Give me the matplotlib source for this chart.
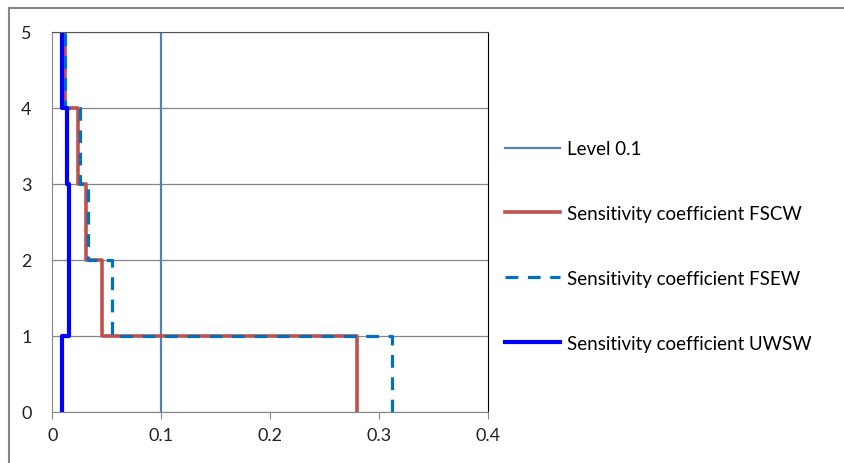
import numpy as np
import matplotlib
matplotlib.use('Agg')
from matplotlib import pyplot as plt
from matplotlib.lines import Line2D

# x value of each vertical segment, for levels 0-1, 1-2, 2-3, 3-4, 4-5
levels = [0, 1, 2, 3, 4, 5]
fscw = [0.280, 0.0459, 0.031, 0.024, 0.0112]
fsew = [0.312, 0.055, 0.0325, 0.025, 0.012]
uwsw = [0.0086, 0.0156, 0.0156, 0.0138, 0.0092]
level_x = [0.1, 0.1]
level_y = [0, 5]

def steps(vals):
    xs = np.repeat(vals, 2)
    ys = np.repeat(levels, 2)[1:-1]
    return xs, ys

plt.rcParams['font.family'] = ['Lato', 'DejaVu Sans']

fig = plt.figure(figsize=(8.44, 4.64), dpi=100)
ax = fig.add_axes([0.062, 0.110, 0.5157, 0.819])

ax.plot(level_x, level_y, color='#4F81BD', lw=1.6, label='Level 0.1')
x, y = steps(fscw)
ax.plot(x, y, color='#C0504D', lw=2.6, label='Sensitivity coefficient FSCW')
x, y = steps(fsew)
ax.plot(x, y, color='#0070C0', lw=2.3, dashes=(4, 3), label='Sensitivity coefficient FSEW')
x, y = steps(uwsw)
ax.plot(x, y, color='#0000FF', lw=3.0, label='Sensitivity coefficient UWSW')

ax.set_xlim(0, 0.4)
ax.set_ylim(0, 5)
ax.set_xticks([0, 0.1, 0.2, 0.3, 0.4])
ax.set_xticklabels(['0', '0.1', '0.2', '0.3', '0.4'])
ax.set_yticks([0, 1, 2, 3, 4, 5])
ax.yaxis.grid(True, color='#868686', lw=0.9)
ax.set_axisbelow(True)
ax.tick_params(axis='x', length=5, color='#868686', pad=6, labelsize=13, labelcolor='#222222')
ax.tick_params(axis='y', length=0, pad=15, labelsize=13, labelcolor='#222222')
for s in ['left', 'bottom']:
    ax.spines[s].set_color('#868686')
ax.spines['top'].set_color('#555555')
ax.spines['right'].set_color('black')

fig.legend(loc='upper left', bbox_to_anchor=(0.587, 0.716), frameon=False,
           fontsize=13.5, handlelength=2.95, handletextpad=0.35, labelspacing=2.55,
           borderpad=0)

# outer chart frame (only top and left visible)
fig.add_artist(Line2D([9/844, 1], [1-9/464, 1-9/464], color='#868686', lw=1.5))
fig.add_artist(Line2D([9/844, 9/844], [0, 1-9/464], color='#868686', lw=1.5))

plt.savefig('out.png')
